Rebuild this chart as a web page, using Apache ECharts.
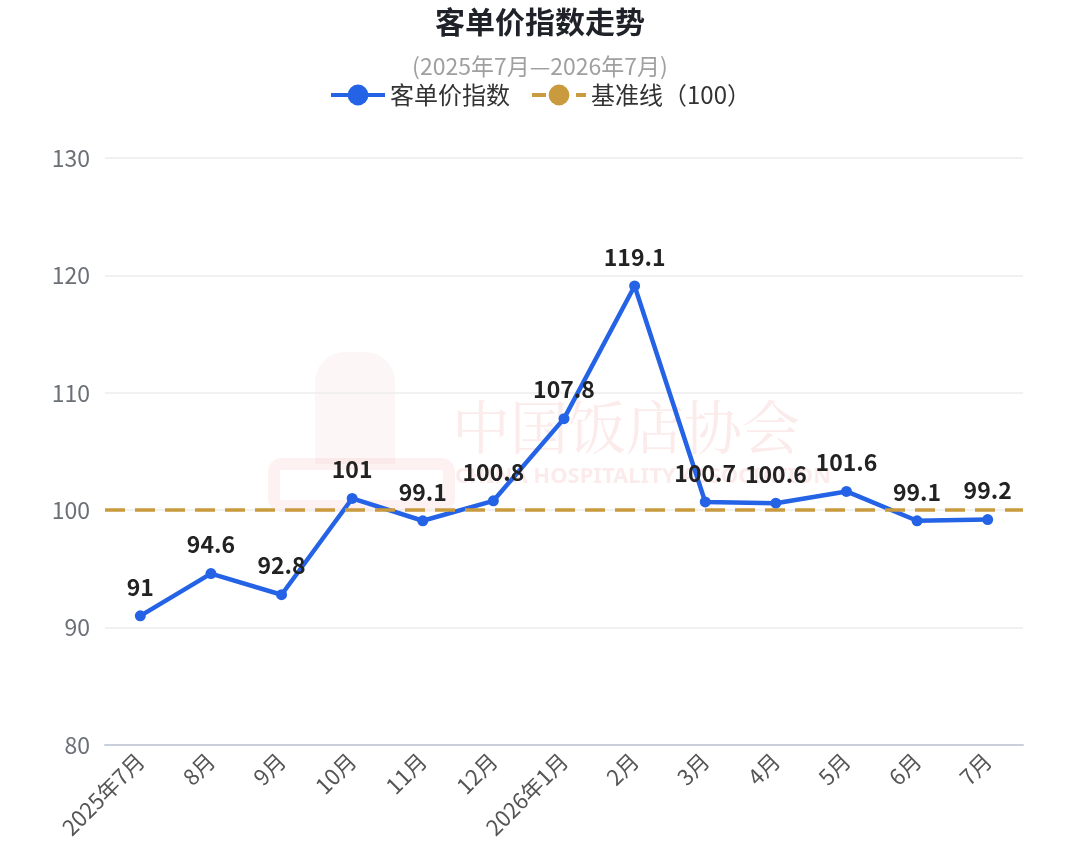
<!DOCTYPE html>
<html>
<head>
<meta charset="utf-8">
<style>
  html, body { margin: 0; padding: 0; background: #fff; }
  #main { width: 1080px; height: 851px; }
</style>
<script src="https://cdn.jsdelivr.net/npm/echarts@6/dist/echarts.min.js"></script>
</head>
<body>
<div id="main"></div>
<script>
var months = ['2025年7月', '8月', '9月', '10月', '11月', '12月', '2026年1月', '2月', '3月', '4月', '5月', '6月', '7月'];
var priceIndex = [91, 94.6, 92.8, 101, 99.1, 100.8, 107.8, 119.1, 100.7, 100.6, 101.6, 99.1, 99.2];
var baseValue = 100;

var chart = echarts.init(document.getElementById('main'));
var font = '"Noto Sans CJK SC", "Noto Sans", sans-serif';
var wm = 'rgba(228,100,100,0.13)';

var option = {
    backgroundColor: '#fff',
    textStyle: { fontFamily: font },
    title: {
        text: '客单价指数走势',
        subtext: '(2025年7月—2026年7月)',
        left: 'center',
        top: 2,
        itemGap: 16,
        textStyle: { fontSize: 30, fontWeight: 'bold', color: '#1f2329', fontFamily: font },
        subtextStyle: { fontSize: 23, color: '#a0a0a0', fontFamily: font, lineHeight: 26 }
    },
    legend: {
        top: 78,
        left: 'center',
        itemWidth: 54,
        itemHeight: 26,
        itemGap: 20,
        textStyle: { fontSize: 24, color: '#333', fontFamily: font },
        data: [
            { name: '客单价指数', lineStyle: { width: 4 } },
            { name: '基准线（100）', lineStyle: { width: 4, type: [14, 8] } }
        ]
    },
    graphic: [
        {
            type: 'text', left: 452, top: 398, silent: true, z: -1,
            style: { text: '中国饭店协会', font: '58px "Noto Serif CJK SC", "Noto Sans CJK SC", serif', fill: wm }
        },
        {
            type: 'text', left: 455, top: 466, silent: true, z: -1,
            style: { text: 'CHINA HOSPITALITY ASSOCIATION', font: 'bold 22px "Noto Sans", sans-serif', fill: wm }
        },
        {
            type: 'rect', left: 315, top: 352, silent: true, z: -1,
            shape: { width: 80, height: 112, r: [30, 30, 0, 0] },
            style: { fill: 'rgba(228,100,100,0.06)' }
        },
        {
            type: 'rect', left: 268, top: 458, silent: true, z: -1,
            shape: { width: 175, height: 42, r: 8 },
            style: { fill: 'none', stroke: 'rgba(228,100,100,0.09)', lineWidth: 12 }
        }
    ],
    grid: { left: 105, right: 57, top: 158, bottom: 106 },
    xAxis: {
        type: 'category',
        data: months,
        axisLine: { lineStyle: { color: '#c9d0dc', width: 2 } },
        axisTick: { show: false },
        axisLabel: { rotate: 45, fontSize: 22, color: '#555', margin: 12, interval: 0 }
    },
    yAxis: {
        type: 'value',
        min: 80,
        max: 130,
        interval: 10,
        axisLine: { show: false },
        axisTick: { show: false },
        axisLabel: { fontSize: 23, color: '#6b6f76', margin: 15 },
        splitLine: { lineStyle: { color: '#ececec', width: 1.5 } }
    },
    series: [
        {
            name: '客单价指数',
            type: 'line',
            data: priceIndex,
            symbol: 'circle',
            symbolSize: 11,
            color: '#2563e6',
            lineStyle: { width: 4.5, color: '#2563e6' },
            label: {
                show: true,
                position: 'top',
                distance: 12,
                fontSize: 23,
                fontWeight: 'bold',
                color: '#222',
                fontFamily: font
            },
            z: 3
        },
        {
            name: '基准线（100）',
            type: 'line',
            data: [],
            symbol: 'circle',
            color: '#c99a3e',
            lineStyle: { width: 3.5, type: [20, 10], color: '#c99a3e' },
            markLine: {
                silent: true,
                symbol: 'none',
                label: { show: false },
                lineStyle: { width: 3.5, type: [20, 10], color: '#c99a3e' },
                data: [{ yAxis: baseValue }]
            },
            z: 2
        }
    ]
};
chart.setOption(option);
</script>
</body>
</html>
